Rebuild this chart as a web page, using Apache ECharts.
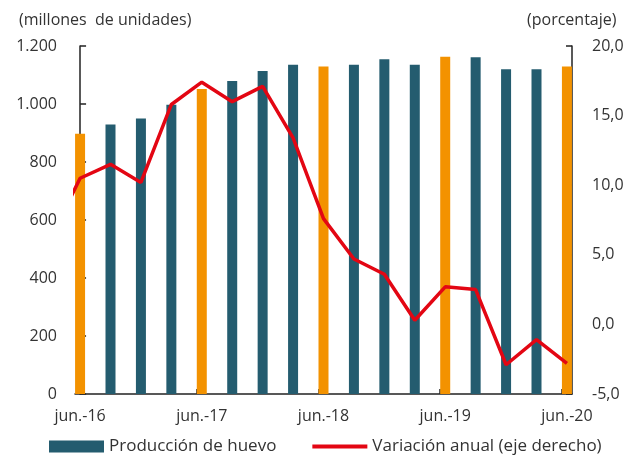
<!DOCTYPE html>
<html>
<head>
<meta charset="utf-8">
<script src="https://cdn.jsdelivr.net/npm/echarts@6/dist/echarts.min.js"></script>
<style>
  html, body { margin: 0; padding: 0; background: #fff; }
  #chart { width: 642px; height: 455px; }
</style>
</head>
<body>
<div id="chart"></div>
<script>
  // trimestres, de jun.-16 a jun.-20
  const trimestres = ['jun.-16', 'sep.-16', 'dic.-16', 'mar.-17', 'jun.-17', 'sep.-17', 'dic.-17', 'mar.-18',
    'jun.-18', 'sep.-18', 'dic.-18', 'mar.-19', 'jun.-19', 'sep.-19', 'dic.-19', 'mar.-20', 'jun.-20'];
  // millones de unidades
  const produccion = [897, 929, 950, 997, 1052, 1079, 1114, 1135, 1129, 1135, 1154, 1135, 1163, 1161, 1120, 1120, 1129];
  // porcentaje
  const variacion = [10.5, 11.5, 10.2, 15.8, 17.4, 16.0, 17.1, 13.4, 7.6, 4.7, 3.6, 0.3, 2.7, 2.5, -2.9, -1.1, -2.8];
  const variacionPrevia = 6.0; // mar.-16, queda fuera del eje
  const etiquetasX = ['jun.-16', 'jun.-17', 'jun.-18', 'jun.-19', 'jun.-20'];

  const teal = '#245c6f';
  const naranja = '#f39200';
  const rojo = '#e30613';
  const fuente = 'Open Sans';

  // meses desde jun.-16
  let barData = produccion.map((v, i) => ({
    value: [i * 3, v],
    itemStyle: { color: trimestres[i].indexOf('jun') === 0 ? naranja : teal }
  }));
  let lineData = [[-3, variacionPrevia]].concat(variacion.map((v, i) => [i * 3, v]));

  let myChart = echarts.init(document.getElementById('chart'));
  let option = {
    backgroundColor: '#fff',
    animation: false,
    textStyle: { fontFamily: fuente },
    graphic: [{
      type: 'text', left: 19, top: 12,
      style: { text: '(millones  de unidades)', font: '16px "' + fuente + '"', fill: '#333' }
    }, {
      type: 'text', left: 527, top: 12,
      style: { text: '(porcentaje)', font: '16px "' + fuente + '"', fill: '#333' }
    }],
    legend: {
      left: 44, top: 433,
      itemWidth: 55, itemHeight: 12, itemGap: 34,
      textStyle: { fontSize: 17, color: '#333', fontFamily: fuente },
      data: [
        { name: 'Producción de huevo', icon: 'rect' },
        { name: 'Variación anual (eje derecho)', itemStyle: { opacity: 0 }, lineStyle: { color: rojo, width: 4 } }
      ]
    },
    grid: { left: 75, right: 70, top: 46, height: 348 },
    xAxis: {
      type: 'value', min: -0.5, max: 48.5,
      splitLine: { show: false },
      axisLine: { lineStyle: { color: '#222', width: 1.5 } },
      axisTick: { show: true, inside: true, length: 5, customValues: [11.5, 23.5, 35.5, 47.5], lineStyle: { color: '#222', width: 1.5 } },
      axisLabel: {
        customValues: [0, 12, 24, 36, 48],
        fontSize: 16, color: '#333', margin: 14,
        formatter: function (v) { return etiquetasX[Math.round(v / 12)]; }
      }
    },
    yAxis: [{
      type: 'value', min: 0, max: 1200, interval: 200,
      splitLine: { show: false },
      axisLine: { show: true, lineStyle: { color: '#222', width: 1.5 } },
      axisTick: { show: true, inside: true, length: 6, lineStyle: { color: '#222', width: 1.5 } },
      axisLabel: {
        fontSize: 16, color: '#333', margin: 18,
        formatter: function (v) { return v >= 1000 ? Math.floor(v / 1000) + '.' + String(v % 1000).padStart(3, '0') : String(v); }
      }
    }, {
      type: 'value', min: -5, max: 20, interval: 5,
      splitLine: { show: false },
      axisLine: { show: true, lineStyle: { color: '#222', width: 1.5 } },
      axisTick: { show: true, inside: true, length: 6, lineStyle: { color: '#222', width: 1.5 } },
      axisLabel: {
        fontSize: 16, color: '#333', margin: 20,
        formatter: function (v) { return v.toFixed(1).replace('.', ','); }
      }
    }],
    series: [{
      name: 'Producción de huevo',
      type: 'bar',
      barWidth: 10,
      itemStyle: { color: teal },
      data: barData
    }, {
      name: 'Variación anual (eje derecho)',
      type: 'line',
      yAxisIndex: 1,
      symbol: 'none',
      clip: true,
      lineStyle: { color: rojo, width: 3.5 },
      itemStyle: { color: rojo },
      data: lineData
    }]
  };
  myChart.setOption(option);
  window.addEventListener('resize', () => { myChart.resize(); });
</script>
</body>
</html>
